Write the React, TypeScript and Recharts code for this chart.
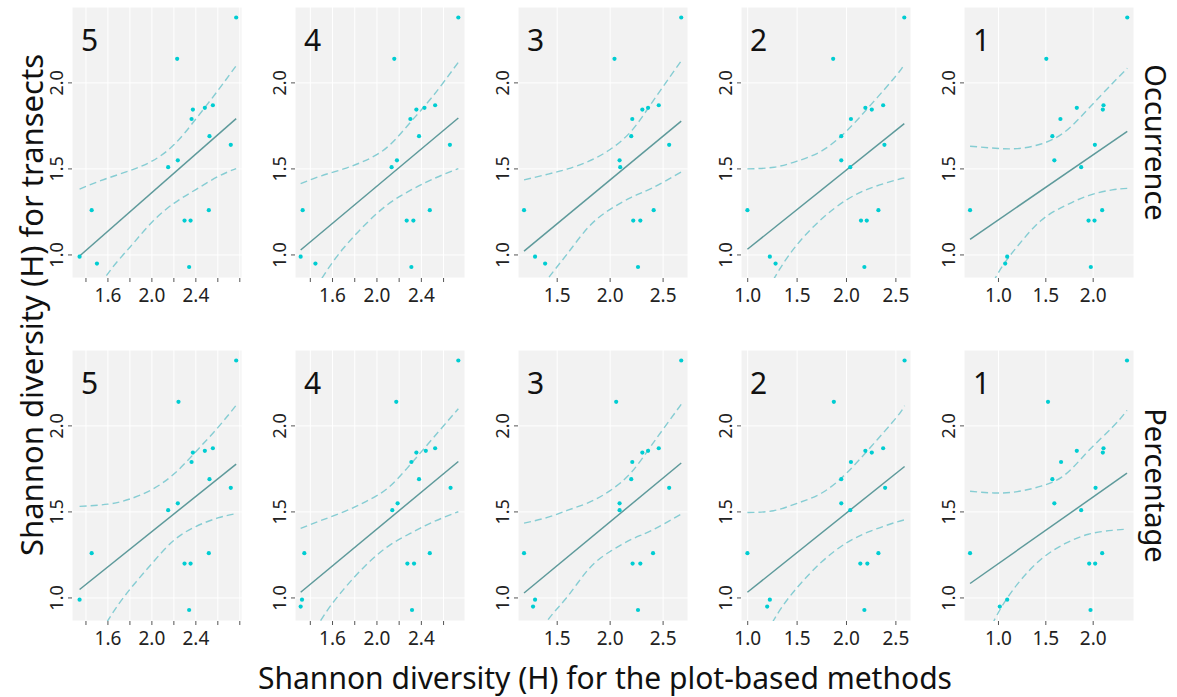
import React from "react";
import { ComposedChart, Scatter, Line, XAxis, YAxis, CartesianGrid } from "recharts";

// transect diversity (y), shared by every panel, one entry per site
const transectH = [2.38, 2.14, 1.87, 1.855, 1.845, 1.79, 1.69, 1.64, 1.55, 1.51, 1.26, 1.26, 1.2, 1.2, 0.99, 0.95, 0.93];

// plot-based diversity (x), Occurrence row
const occ5X = [2.767, 2.23, 2.555, 2.482, 2.373, 2.361, 2.524, 2.718, 2.236, 2.148, 1.452, 2.518, 2.297, 2.352, 1.342, 1.5, 2.339];
const occ4X = [2.733, 2.156, 2.524, 2.428, 2.355, 2.301, 2.379, 2.657, 2.18, 2.132, 1.331, 2.476, 2.268, 2.328, 1.313, 1.446, 2.31];
const occ3X = [2.671, 2.041, 2.459, 2.358, 2.304, 2.209, 2.199, 2.557, 2.089, 2.095, 1.187, 2.411, 2.218, 2.285, 1.291, 1.386, 2.263];
const occ2X = [2.585, 1.865, 2.371, 2.191, 2.256, 2.045, 1.947, 2.384, 1.947, 2.038, 0.997, 2.323, 2.147, 2.205, 1.224, 1.282, 2.181];
const occ1X = [2.36, 1.505, 2.109, 1.827, 2.102, 1.654, 1.569, 2.018, 1.59, 1.873, 0.7, 2.095, 1.951, 2.014, 1.092, 1.071, 1.975];

// plot-based diversity (x), Percentage row
const pct5X = [2.767, 2.242, 2.555, 2.482, 2.373, 2.361, 2.524, 2.718, 2.236, 2.148, 1.452, 2.518, 2.297, 2.352, 1.342, null, 2.339];
const pct4X = [2.733, 2.174, 2.524, 2.44, 2.355, 2.31, 2.379, 2.663, 2.186, 2.138, 1.346, 2.476, 2.274, 2.334, 1.325, 1.313, 2.316];
const pct3X = [2.671, 2.057, 2.459, 2.358, 2.304, 2.209, 2.199, 2.557, 2.089, 2.089, 1.187, 2.405, 2.212, 2.285, 1.291, 1.272, 2.263];
const pct2X = [2.588, 1.872, 2.371, 2.191, 2.256, 2.045, 1.947, 2.391, 1.947, 2.038, 0.997, 2.323, 2.14, 2.211, 1.224, 1.197, 2.181];
const pct1X = [2.357, 1.523, 2.109, 1.827, 2.102, 1.661, 1.569, 2.025, 1.59, 1.873, 0.7, 2.095, 1.958, 2.021, 1.092, 1.014, 1.972];

// fitted line ends and confidence band
const occ5Line = { x: [1.342, 2.767], y: [0.994, 1.792] };
const occ5Band = { x: [1.342, 1.57, 1.8, 2.0, 2.2, 2.4, 2.6, 2.767], up: [1.383, 1.44, 1.49, 1.545, 1.64, 1.79, 1.955, 2.1], lo: [0.6, 0.864, 1.045, 1.19, 1.3, 1.38, 1.455, 1.502] };
const occ4Line = { x: [1.313, 2.733], y: [1.029, 1.796] };
const occ4Band = { x: [1.313, 1.5, 1.7, 1.9, 2.1, 2.3, 2.5, 2.733], up: [1.414, 1.46, 1.5, 1.55, 1.63, 1.77, 1.92, 2.12], lo: [0.64, 0.86, 1.04, 1.18, 1.295, 1.375, 1.44, 1.502] };
const occ3Line = { x: [1.187, 2.671], y: [1.022, 1.778] };
const occ3Band = { x: [1.187, 1.415, 1.6, 1.8, 2.0, 2.2, 2.4, 2.671], up: [1.436, 1.47, 1.5, 1.545, 1.613, 1.72, 1.89, 2.128], lo: [0.66, 0.864, 1.01, 1.165, 1.265, 1.335, 1.39, 1.482] };
const occ2Line = { x: [0.997, 2.585], y: [1.033, 1.763] };
const occ2Band = { x: [0.997, 1.268, 1.5, 1.75, 2.0, 2.25, 2.5, 2.585], up: [1.5, 1.51, 1.545, 1.605, 1.72, 1.875, 2.04, 2.109], lo: [0.57, 0.864, 1.06, 1.21, 1.32, 1.39, 1.435, 1.447] };
const occ1Line = { x: [0.7, 2.36], y: [1.091, 1.718] };
const occ1Band = { x: [0.7, 0.965, 1.2, 1.45, 1.7, 1.95, 2.2, 2.36], up: [1.632, 1.62, 1.618, 1.645, 1.715, 1.85, 1.995, 2.085], lo: [0.55, 0.864, 1.05, 1.2, 1.285, 1.345, 1.378, 1.387] };

const pct5Line = { x: [1.342, 2.767], y: [1.049, 1.778] };
const pct5Band = { x: [1.342, 1.6, 1.8, 2.0, 2.2, 2.4, 2.6, 2.767], up: [1.532, 1.545, 1.575, 1.63, 1.72, 1.85, 1.99, 2.12], lo: [0.58, 0.869, 1.05, 1.2, 1.335, 1.415, 1.465, 1.49] };
const pct4Line = { x: [1.313, 2.733], y: [1.033, 1.793] };
const pct4Band = { x: [1.313, 1.494, 1.7, 1.9, 2.1, 2.3, 2.5, 2.733], up: [1.404, 1.45, 1.5, 1.56, 1.64, 1.775, 1.925, 2.1], lo: [0.64, 0.869, 1.05, 1.19, 1.3, 1.375, 1.44, 1.501] };
const pct3Line = { x: [1.187, 2.671], y: [1.029, 1.784] };
const pct3Band = { x: [1.187, 1.408, 1.6, 1.8, 2.0, 2.2, 2.4, 2.671], up: [1.435, 1.468, 1.51, 1.555, 1.624, 1.73, 1.895, 2.125], lo: [0.66, 0.869, 1.01, 1.17, 1.27, 1.34, 1.395, 1.487] };
const pct2Line = { x: [0.997, 2.588], y: [1.033, 1.764] };
const pct2Band = { x: [0.997, 1.261, 1.5, 1.75, 2.0, 2.25, 2.5, 2.588], up: [1.497, 1.507, 1.55, 1.61, 1.725, 1.88, 2.045, 2.117], lo: [0.57, 0.869, 1.06, 1.21, 1.32, 1.39, 1.44, 1.454] };
const pct1Line = { x: [0.7, 2.357], y: [1.084, 1.725] };
const pct1Band = { x: [0.7, 0.954, 1.2, 1.45, 1.7, 1.95, 2.2, 2.357], up: [1.62, 1.61, 1.618, 1.65, 1.715, 1.855, 1.99, 2.09], lo: [0.55, 0.869, 1.08, 1.225, 1.315, 1.37, 1.393, 1.4] };

// axes
const yDomain = [0.866, 2.441];
const yTicks = [1.0, 1.5, 2.0];
const fineTicks = [1.4, 1.6, 1.8, 2.0, 2.2, 2.4, 2.6, 2.8];
const fineLabels = [1.6, 2.0, 2.4];
const halfTicks3 = [1.5, 2.0, 2.5];
const halfTicks2 = [1.0, 1.5, 2.0, 2.5];
const halfTicks1 = [1.0, 1.5, 2.0];
const panelNames = ["5", "4", "3", "2", "1"];
const rowNames = ["Occurrence", "Percentage"];

const FONT = "'Noto Sans', 'Open Sans', sans-serif";
const PANEL_W = 170;
const PANEL_H = 271;
const AXIS_W = 30;
const AXIS_H = 36;
const LEFTS = [72, 295, 518, 741, 964];
const TOPS = [7, 350];

type PanelProps = {
  xs: (number | null)[];
  xDomain: number[];
  xTicks: number[];
  xLabels: number[];
  line: { x: number[]; y: number[] };
  band: { x: number[]; up: number[]; lo: number[] };
  left: number;
  top: number;
};

function Dot(props: any) {
  const { cx, cy } = props;
  if (cx == null || cy == null) return null;
  return <circle cx={cx} cy={cy} r={2.1} fill="#00cdd2" />;
}

function Panel({ xs, xDomain, xTicks, xLabels, line, band, left, top }: PanelProps) {
  const points = transectH
    .map((y, i) => ({ x: xs[i], y }))
    .filter((p) => p.x != null);
  const upper = band.x.map((x, i) => ({ x, y: band.up[i] }));
  const lower = band.x.map((x, i) => ({ x, y: band.lo[i] }));
  const fit = line.x.map((x, i) => ({ x, y: line.y[i] }));
  const ticks = xTicks.filter((t) => t >= xDomain[0] && t <= xDomain[1]);

  return (
    <div style={{ position: "absolute", left: left - AXIS_W, top }}>
      <ComposedChart
        width={PANEL_W + AXIS_W}
        height={PANEL_H + AXIS_H}
        margin={{ top: 0, right: 0, bottom: 0, left: 0 }}
      >
        <CartesianGrid fill="#f2f2f2" stroke="#ffffff" strokeWidth={1} />
        <XAxis
          type="number"
          dataKey="x"
          domain={xDomain}
          ticks={ticks}
          interval={0}
          allowDataOverflow
          axisLine={false}
          tickSize={4}
          tickLine={{ stroke: "#555555" }}
          height={AXIS_H}
          tick={(p: any) => {
            const v = p.payload.value;
            const shown = xLabels.some((l) => Math.abs(l - v) < 1e-6);
            return (
              <text x={p.x} y={p.y} dy={18} textAnchor="middle" fontSize={19} fill="#222" fontFamily={FONT}>
                {shown ? v.toFixed(1) : ""}
              </text>
            );
          }}
        />
        <YAxis
          type="number"
          dataKey="y"
          domain={yDomain}
          ticks={yTicks}
          interval={0}
          allowDataOverflow
          axisLine={false}
          tickSize={4}
          tickLine={{ stroke: "#555555" }}
          width={AXIS_W}
          tick={(p: any) => (
            <text
              transform={`translate(${p.x - 3},${p.y}) rotate(-90)`}
              textAnchor="middle"
              fontSize={18}
              fill="#222"
              fontFamily={FONT}
            >
              {p.payload.value.toFixed(1)}
            </text>
          )}
        />
        <Line data={upper} dataKey="y" type="natural" stroke="#86cdd3" strokeWidth={1.4} strokeDasharray="7 4" dot={false} isAnimationActive={false} />
        <Line data={lower} dataKey="y" type="natural" stroke="#86cdd3" strokeWidth={1.4} strokeDasharray="7 4" dot={false} isAnimationActive={false} />
        <Line data={fit} dataKey="y" type="linear" stroke="#5e9a9b" strokeWidth={1.5} dot={false} isAnimationActive={false} />
        <Scatter data={points} shape={Dot} isAnimationActive={false} />
      </ComposedChart>
    </div>
  );
}

const rows = [
  [
    { xs: occ5X, xDomain: [1.273, 2.82], xTicks: fineTicks, xLabels: fineLabels, line: occ5Line, band: occ5Band },
    { xs: occ4X, xDomain: [1.262, 2.793], xTicks: fineTicks, xLabels: fineLabels, line: occ4Line, band: occ4Band },
    { xs: occ3X, xDomain: [1.13, 2.735], xTicks: halfTicks3, xLabels: halfTicks3, line: occ3Line, band: occ3Band },
    { xs: occ2X, xDomain: [0.932, 2.653], xTicks: halfTicks2, xLabels: halfTicks2, line: occ2Line, band: occ2Band },
    { xs: occ1X, xDomain: [0.636, 2.431], xTicks: halfTicks1, xLabels: halfTicks1, line: occ1Line, band: occ1Band },
  ],
  [
    { xs: pct5X, xDomain: [1.273, 2.82], xTicks: fineTicks, xLabels: fineLabels, line: pct5Line, band: pct5Band },
    { xs: pct4X, xDomain: [1.262, 2.793], xTicks: fineTicks, xLabels: fineLabels, line: pct4Line, band: pct4Band },
    { xs: pct3X, xDomain: [1.13, 2.735], xTicks: halfTicks3, xLabels: halfTicks3, line: pct3Line, band: pct3Band },
    { xs: pct2X, xDomain: [0.932, 2.653], xTicks: halfTicks2, xLabels: halfTicks2, line: pct2Line, band: pct2Band },
    { xs: pct1X, xDomain: [0.636, 2.431], xTicks: halfTicks1, xLabels: halfTicks1, line: pct1Line, band: pct1Band },
  ],
];

export default function App() {
  return (
    <div
      style={{
        position: "absolute",
        left: 0,
        top: 0,
        width: 1177,
        height: 697,
        background: "#ffffff",
        fontFamily: FONT,
        overflow: "hidden",
      }}
    >
      {rows.map((row, r) =>
        row.map((cfg, c) => (
          <Panel key={`${r}-${c}`} {...cfg} left={LEFTS[c]} top={TOPS[r]} />
        ))
      )}
      <svg
        width={1177}
        height={697}
        style={{ position: "absolute", left: 0, top: 0, pointerEvents: "none" }}
      >
        {TOPS.map((t) =>
          LEFTS.map((l, c) => (
            <text key={`${t}-${c}`} x={l + 9} y={t + 44} fontSize={30} fill="#111" fontFamily={FONT}>
              {panelNames[c]}
            </text>
          ))
        )}
        {rowNames.map((name, r) => (
          <text
            key={name}
            transform={`translate(1145,${TOPS[r] + PANEL_H / 2}) rotate(90)`}
            textAnchor="middle"
            fontSize={29}
            fill="#111"
            fontFamily={FONT}
          >
            {name}
          </text>
        ))}
        <text
          transform="translate(43,305) rotate(-90)"
          textAnchor="middle"
          fontSize={31}
          fill="#111"
          fontFamily={FONT}
        >
          Shannon diversity (H) for transects
        </text>
        <text x={605} y={689} textAnchor="middle" fontSize={30} fill="#111" fontFamily={FONT}>
          Shannon diversity (H) for the plot-based methods
        </text>
      </svg>
    </div>
  );
}
